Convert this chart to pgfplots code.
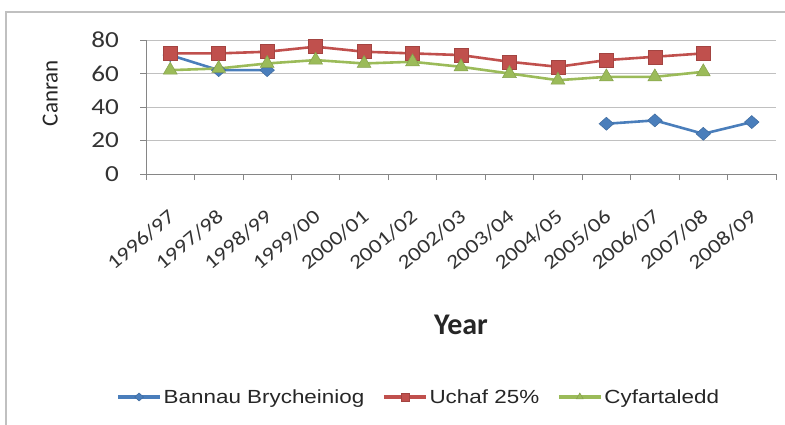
\documentclass[border=0pt]{standalone}
\usepackage{fontspec}
\setmainfont{Carlito}
\newfontfamily\widefont{Carlito}[FakeStretch=1.18]
\newfontfamily\legfont{Liberation Sans}[FakeStretch=1.18]
\usepackage{pgfplots}
\pgfplotsset{compat=1.18}

\definecolor{serblue}{RGB}{74,126,187}
\definecolor{serred}{RGB}{192,80,77}
\definecolor{sergreen}{RGB}{155,187,89}
\definecolor{gridgray}{RGB}{192,192,192}
\definecolor{axgray}{RGB}{134,134,134}

\begin{document}
\begin{tikzpicture}[x=1pt,y=1pt]
\useasboundingbox (0,0) rectangle (785,424);
\draw[gridgray, line width=1.2pt] (6,-10) rectangle (800,412);
\begin{axis}[
    at={(146pt,250pt)}, anchor=south west,
    scale only axis, width=630pt, height=134pt,
    xmin=-0.5, xmax=12.5, ymin=0, ymax=80,
    clip=false,
    axis lines=left,
    axis line style={-, draw=axgray, line width=0.8pt},
    tick align=outside,
    major tick length=6pt, minor tick length=6pt,
    every tick/.style={axgray, line width=0.8pt},
    ytick={0,20,...,80},
    xtick={0,...,12},
    minor xtick={-0.5,0.5,...,12.5},
    major x tick style={draw=none},
    xticklabels={1996/97,1997/98,1998/99,1999/00,2000/01,2001/02,2002/03,2003/04,2004/05,2005/06,2006/07,2007/08,2008/09},
    xticklabel style={font=\widefont\fontsize{20}{24}\selectfont, color=black!80, xshift=-3pt, yshift=-28pt, rotate=40, anchor=north east, inner sep=0pt},
    yticklabel style={font=\widefont\fontsize{23}{27}\selectfont, color=black!80, anchor=east, inner sep=0pt, xshift=-21pt},
    /pgf/number format/assume math mode=true,
    ymajorgrids,
    major grid style={gridgray, line width=0.8pt},
    ylabel={Canran},
    ylabel style={at={(axis description cs:-0.152,0.604)}, anchor=center, font=\fontsize{23}{27}\selectfont, color=black!85},
    xlabel={Year},
    xlabel style={at={(axis description cs:0.5,-1.127)}, anchor=center, font=\bfseries\fontsize{30}{34}\selectfont, color=black!85},
    unbounded coords=jump,
    legend columns=3,
    legend style={draw=none, fill=none, at={(axis description cs:0.433,-1.664)}, anchor=center,
        font=\legfont\fontsize{19}{23}\selectfont, text=black!85,
        /tikz/every even column/.append style={column sep=16pt}},
    legend image code/.code={\draw[mark repeat=2, mark phase=2, #1, line width=3.2pt, mark size=4pt] plot coordinates {(0pt,0pt) (21pt,0pt) (42pt,0pt)};},
]
\addplot[serblue, line width=2.6pt, mark=diamond*, mark size=6.5pt, mark options={xscale=1.5, fill=serblue, draw=serblue!85!black, line width=0.5pt}]
  coordinates {(0,71) (1,62) (2,62) (3,nan) (4,nan) (5,nan) (6,nan) (7,nan) (8,nan) (9,30) (10,32) (11,24) (12,31)};
\addlegendentry{Bannau Brycheiniog}
\addplot[serred, line width=2.6pt, mark=square*, mark size=7pt, mark options={fill=serred, draw=serred!85!black, line width=0.5pt}]
  coordinates {(0,72) (1,72) (2,73) (3,76) (4,73) (5,72) (6,71) (7,67) (8,64) (9,68) (10,70) (11,72)};
\addlegendentry{Uchaf 25\%}
\addplot[sergreen, line width=2.6pt, mark=triangle*, mark size=8pt, mark options={fill=sergreen, draw=sergreen!85!black, line width=0.5pt}]
  coordinates {(0,62) (1,63) (2,66) (3,68) (4,66) (5,67) (6,64) (7,60) (8,56) (9,58) (10,58) (11,61)};
\addlegendentry{Cyfartaledd}
\end{axis}
\end{tikzpicture}
\end{document}
